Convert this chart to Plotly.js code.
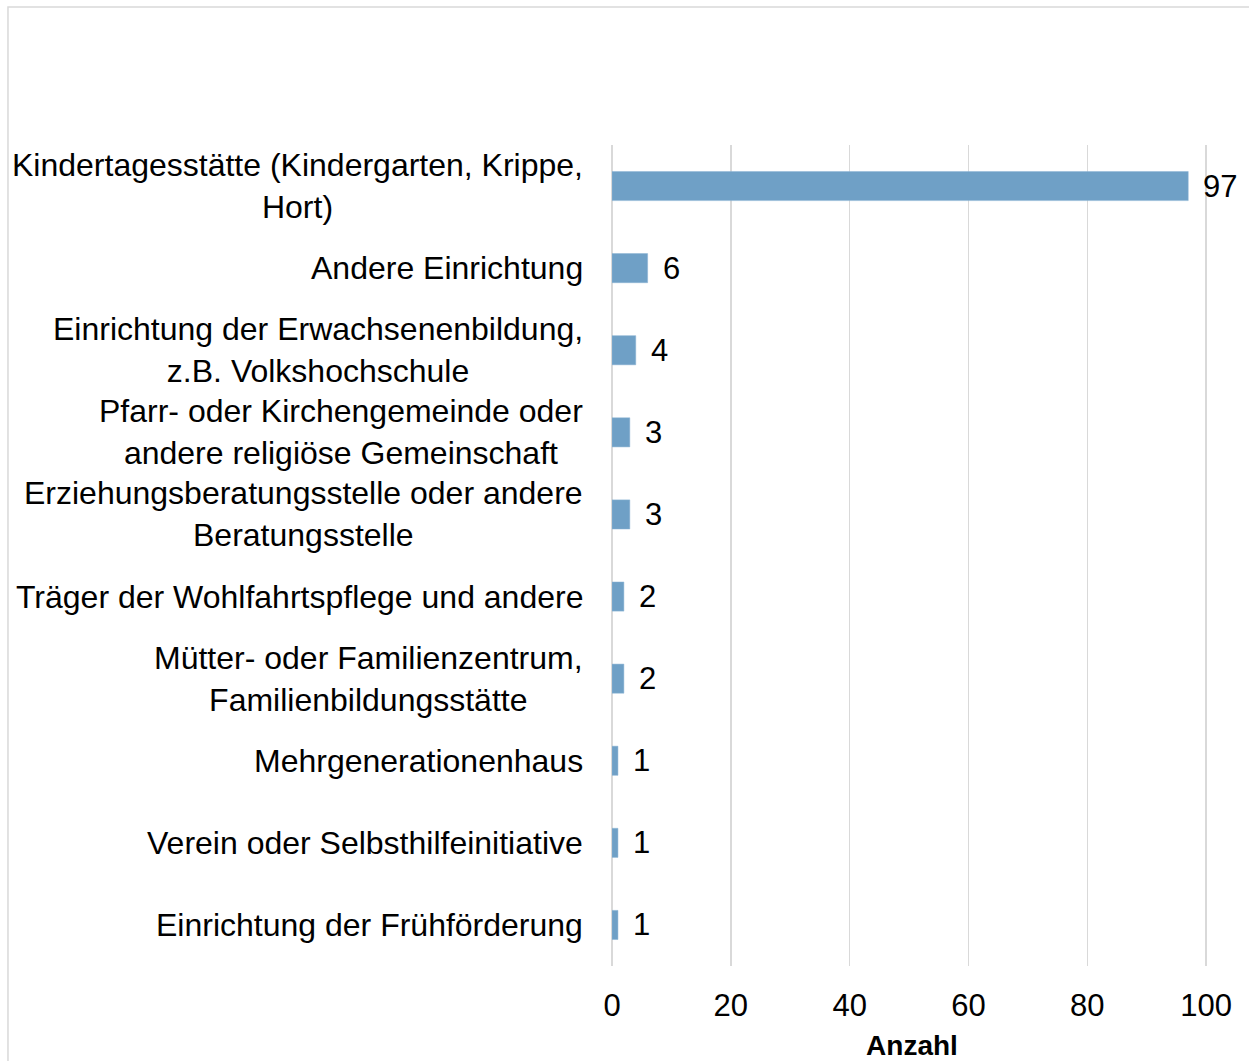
<!DOCTYPE html>
<html>
<head>
<meta charset="utf-8">
<script src="https://cdn.plot.ly/plotly-3.0.1.min.js"></script>
<style>html,body{margin:0;padding:0;background:#fff;}#chart{width:1249px;height:1061px;}</style>
</head>
<body>
<div id="chart"></div>
<script>
var categories = [
  "Kindertagesstätte (Kindergarten, Krippe,<br>Hort)",
  "Andere Einrichtung",
  "Einrichtung der Erwachsenenbildung,<br>z.B. Volkshochschule",
  "Pfarr- oder Kirchengemeinde oder<br>andere religiöse Gemeinschaft",
  "Erziehungsberatungsstelle oder andere<br>Beratungsstelle",
  "Träger der Wohlfahrtspflege und andere",
  "Mütter- oder Familienzentrum,<br>Familienbildungsstätte",
  "Mehrgenerationenhaus",
  "Verein oder Selbsthilfeinitiative",
  "Einrichtung der Frühförderung"
];
var values = [97, 6, 4, 3, 3, 2, 2, 1, 1, 1];
var xTickVals = [0, 20, 40, 60, 80, 100];
var xTitle = "Anzahl";

var FONT = "Liberation Sans, Arial, sans-serif";

var annotations = [];
categories.forEach(function (c, i) {
  annotations.push({
    x: 0, y: c, xref: "x", yref: "y",
    text: c, showarrow: false,
    xanchor: "right", yanchor: "middle", align: "center",
    xshift: -27,
    font: {family: FONT, size: 32, color: "#000"}
  });
  annotations.push({
    x: values[i], y: c, xref: "x", yref: "y",
    text: String(values[i]), showarrow: false,
    xanchor: "left", yanchor: "middle",
    xshift: 13,
    font: {family: FONT, size: 31, color: "#000"}
  });
});

var trace = {
  type: "bar",
  orientation: "h",
  x: values,
  y: categories,
  marker: {color: "#6fa0c6", line: {color: "#8db5d4", width: 0.5}},
  hoverinfo: "x+y"
};

var layout = {
  width: 1249, height: 1061,
  margin: {l: 612, r: 37, t: 145, b: 95, pad: 0},
  paper_bgcolor: "#fff", plot_bgcolor: "#fff",
  showlegend: false,
  bargap: 0.645,
  font: {family: FONT, color: "#000"},
  xaxis: {
    range: [0, 101],
    tickvals: xTickVals,
    ticktext: xTickVals.map(String),
    showgrid: true, gridcolor: "#d9d9d9", gridwidth: 1.5,
    zeroline: true, zerolinecolor: "#d9d9d9", zerolinewidth: 1.5,
    showline: false,
    ticks: "outside", ticklen: 12, tickcolor: "rgba(0,0,0,0)",
    tickfont: {family: FONT, size: 31, color: "#000"},
    title: {text: "<b>" + xTitle + "</b>", font: {family: FONT, size: 28, color: "#000"}, standoff: 20},
    fixedrange: true
  },
  yaxis: {
    type: "category",
    autorange: "reversed",
    showticklabels: false,
    showgrid: false, zeroline: false, showline: false, ticks: "",
    fixedrange: true
  },
  annotations: annotations,
  shapes: [{
    type: "rect", xref: "paper", yref: "paper",
    x0: -1.0067, x1: 1.07, y0: -0.125, y1: 1.168,
    line: {color: "#d9d9d9", width: 1.5},
    fillcolor: "rgba(0,0,0,0)", layer: "below"
  }]
};

Plotly.newPlot("chart", [trace], layout, {displayModeBar: false, staticPlot: true});
</script>
</body>
</html>
